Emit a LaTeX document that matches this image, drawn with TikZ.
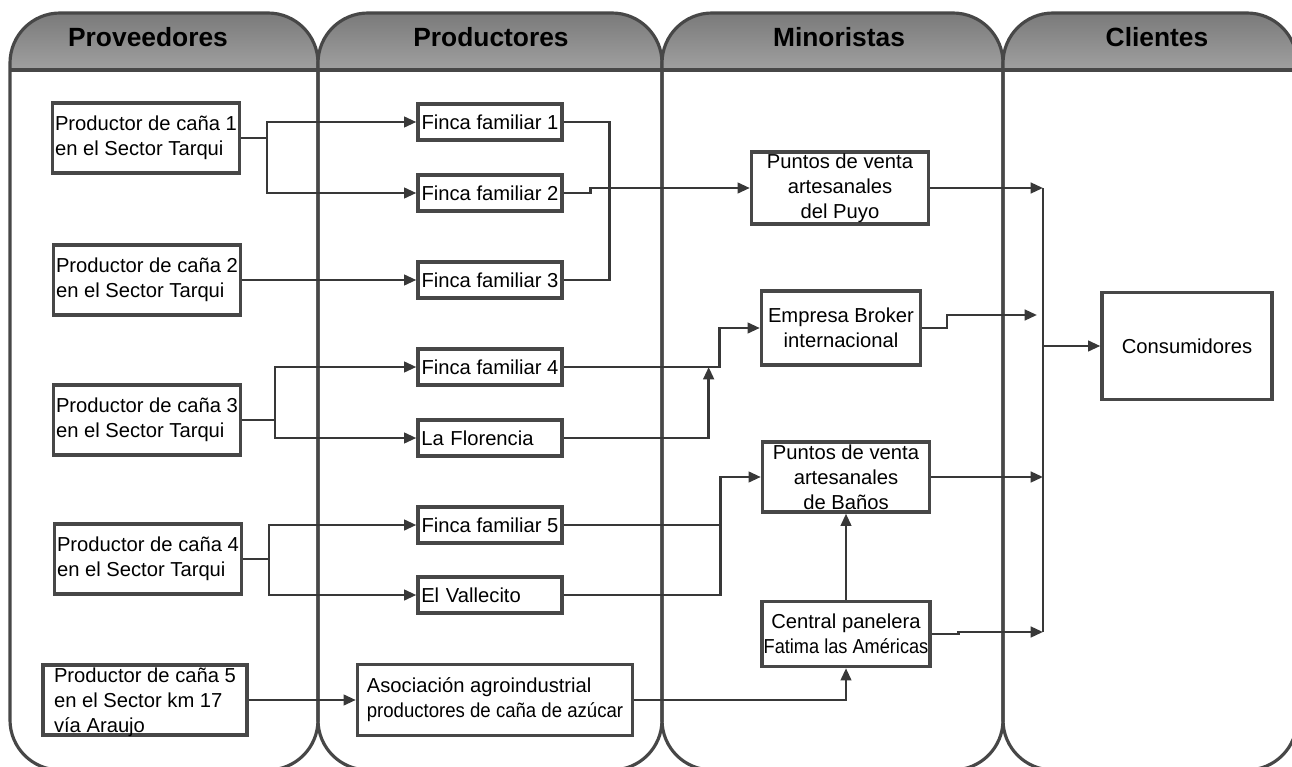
\documentclass[tikz,border=0pt]{standalone}
\usepackage{fontspec}
\setmainfont{Liberation Sans}
\usepackage{graphicx}
\usepackage{tikz}
\usetikzlibrary{arrows.meta}
\definecolor{LaneLine}{HTML}{474747}
\definecolor{ConnLine}{HTML}{383838}
\definecolor{HdrTop}{HTML}{7A7A7A}
\definecolor{HdrBot}{HTML}{A0A0A0}

\begin{document}
\begin{tikzpicture}[
    x=0.02cm, y=-0.02cm,
    lane/.style={
      draw=LaneLine,
      line width=1.8pt,
      rounded corners=1cm
    },
    hdrband/.style={
      top color=HdrTop,
      bottom color=HdrBot
    },
    hdr/.style={
      font=\fontsize{15}{18}\selectfont\bfseries
    },
    ent/.style={
      draw=LaneLine,
      line width=1.9pt,
      fill=white,
      inner sep=1pt,
      font=\fontsize{11.5}{14.2}\selectfont,
      align=center
    },
    provbox/.style={
      ent,
      align=left,
      minimum width=3.74cm,
      minimum height=1.4cm
    },
    fincabox/.style={
      ent,
      minimum width=2.88cm,
      minimum height=0.72cm
    },
    conn/.style={
      draw=ConnLine,
      line width=1.5pt
    },
    arr/.style={
      conn,
      -{Triangle[length=7pt,width=6pt]}
    }
  ]
  \useasboundingbox (0,0) rectangle (1292,767);

  % Swimlanes
  \foreach \xa/\xb in {10/318, 318/662, 662/1003, 1003/1297} {
    \begin{scope}
      \clip[rounded corners=1cm] (\xa,13) rectangle (\xb,770);
      \fill[hdrband] (\xa,13) rectangle (\xb,70);
    \end{scope}
    \draw[lane] (\xa,13) rectangle (\xb,770);
    \draw[lane] (\xa,70) -- (\xb,70);
  }

  \node[hdr] (hProv) at (148,37)  {Proveedores};
  \node[hdr] (hProd) at (491,37)  {Productores};
  \node[hdr] (hMin)  at (839,37)  {Minoristas};
  \node[hdr] (hCli)  at (1157,37) {Clientes};

  % Proveedores
  \node[provbox] (p1) at (146,138) {Productor de caña 1\\en el Sector Tarqui};
  \node[provbox] (p2) at (147,280) {Productor de caña 2\\en el Sector Tarqui};
  \node[provbox] (p3) at (147,420) {Productor de caña 3\\en el Sector Tarqui};
  \node[provbox] (p4) at (148,559) {Productor de caña 4\\en el Sector Tarqui};
  \node[provbox, minimum width=4.08cm, inner ysep=-4pt, text depth=-2pt] (p5) at (145,700)
    {Productor de caña 5\\en el Sector km 17\\vía Araujo};

  % Productores
  \node[fincabox] (f1) at (490,122) {Finca familiar 1};
  \node[fincabox] (f2) at (490,193) {Finca familiar 2};
  \node[fincabox] (f3) at (490,280) {Finca familiar 3};
  \node[fincabox] (f4) at (490,367) {Finca familiar 4};
  \node[fincabox, text width=2.75cm, align=left] (flor) at (490,438) {La Florencia};
  \node[fincabox] (f5) at (490,525) {Finca familiar 5};
  \node[fincabox, text width=2.75cm, align=left] (vall) at (490,595) {El Vallecito};
  \node[ent, align=left, minimum width=5.5cm, minimum height=1.42cm] (asoc) at (495,700)
    {Asociación agroindustrial\\\scalebox{0.92}[1]{productores de caña de azúcar}};

  % Minoristas
  \node[ent, minimum width=3.54cm, minimum height=1.44cm, inner ysep=-4pt] (puyo) at (840,188)
    {Puntos de venta\\artesanales\\del Puyo};
  \node[ent, minimum width=3.18cm, minimum height=1.48cm] (brok) at (841,328)
    {Empresa Broker\\internacional};
  \node[ent, minimum width=3.34cm, minimum height=1.4cm, inner ysep=-4pt] (banos) at (846,477)
    {Puntos de venta\\artesanales\\de Baños};
  \node[ent, minimum width=3.34cm, minimum height=1.3cm] (cent) at (846,634)
    {Central panelera\\\scalebox{0.9}[1]{Fatima las Américas}};

  % Clientes
  \node[ent, minimum width=3.4cm, minimum height=2.14cm] (cons) at (1187,346) {Consumidores};

  \coordinate (busTop) at (1043,188);
  \coordinate (busBot) at (1043,632);
  \coordinate (brokIn) at (1037,315);

  % Connectors
  \draw[arr] (p1.east) -- ++(26,0) |- (f1.west);
  \draw[arr] (p1.east) -- ++(26,0) |- (f2.west);
  \draw[arr] (p2.east) -- (f3.west);
  \draw[conn] (f1.east) -- ++(46,0) |- (f3.east);
  \draw[arr] (f2.east) -- ++(27,0) |- (puyo.west);

  \draw[arr] (p3.east) -- ++(33,0) |- (f4.west);
  \draw[arr] (p3.east) -- ++(33,0) |- (flor.west);
  \path (f4.east) ++(145,0) coordinate (jF4);
  \draw[arr] (f4.east) -- ++(156,0) |- (brok.west);
  \draw[arr] (flor.east) -| (jF4);

  \draw[arr] (p4.east) -- ++(26,0) |- (f5.west);
  \draw[arr] (p4.east) -- ++(26,0) |- (vall.west);
  \path (f5.east) ++(157,0) coordinate (jF5);
  \draw[arr] (f5.east) -- (jF5) |- (banos.west);
  \draw[conn] (vall.east) -| (jF5);

  \draw[arr] (p5.east) -- (asoc.west);
  \draw[arr] (asoc.east) -| (cent.south);
  \draw[arr] (cent.north) -- (banos.south);

  % Towards consumers
  \draw[conn] (busTop) -- (busBot);
  \draw[arr] (puyo.east) -- (busTop);
  \draw[arr] (brok.east) -- ++(25,0) |- (brokIn);
  \draw[arr] (banos.east) -- (banos.east -| busTop);
  \draw[arr] (cent.east) -- ++(27,0) |- (busBot);
  \draw[arr] (busTop |- cons.west) -- (cons.west);

\end{tikzpicture}
\end{document}
